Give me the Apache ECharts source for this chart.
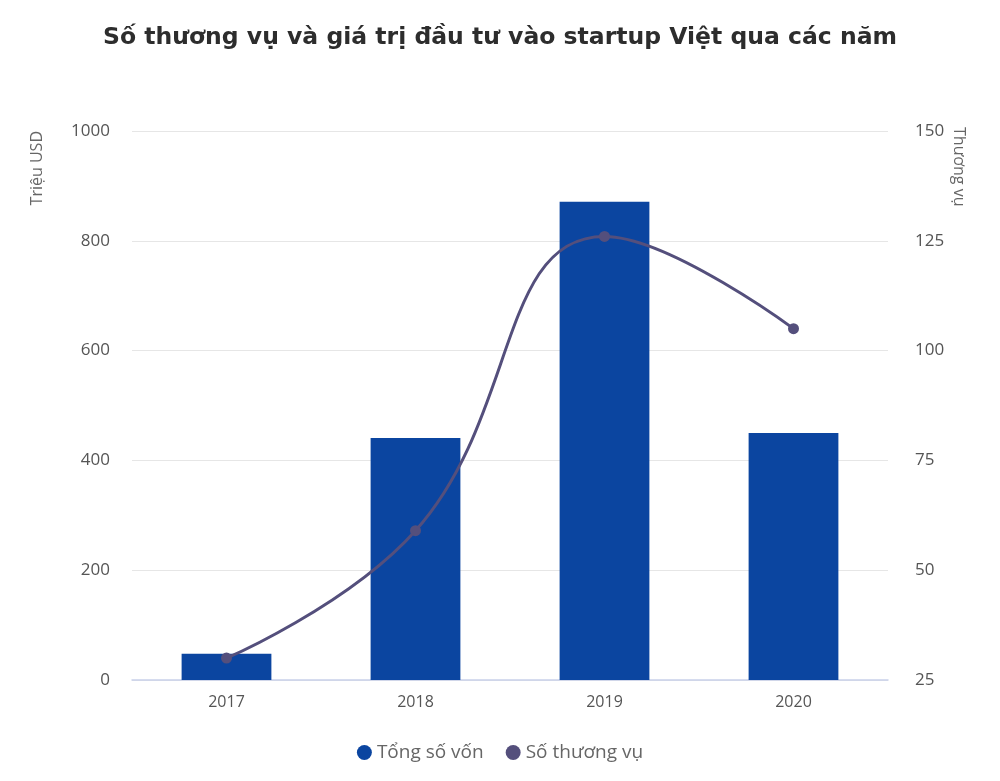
<!DOCTYPE html>
<html><head><meta charset="utf-8">
<script src="https://cdn.jsdelivr.net/npm/echarts@6/dist/echarts.min.js"></script>
<style>html,body{margin:0;padding:0;background:#fff}#c{width:1000px;height:781px}</style>
</head><body><div id="c"></div>
<script>
const categories = ['2017', '2018', '2019', '2020'];
const capital = [48, 441, 871, 450];
const deals = [30, 59, 126, 105];
const leftTicks = [0, 200, 400, 600, 800, 1000];
const rightTicks = [25, 50, 75, 100, 125, 150];

const font = '"Open Sans", Lato, sans-serif';
const chart = echarts.init(document.getElementById('c'));
chart.setOption({
  animation: false,
  title: {
    text: 'Số thương vụ và giá trị đầu tư vào startup Việt qua các năm',
    left: 'center', top: 21,
    textStyle: {fontFamily: '"DejaVu Sans", sans-serif', fontSize: 23.5, fontWeight: 'bold', color: '#2d2d2d'}
  },
  grid: {left: 132, right: 112, top: 131, bottom: 101},
  legend: {
    bottom: 14, left: 'center', itemGap: 22, itemWidth: 15, itemHeight: 15,
    textStyle: {fontFamily: font, fontSize: 19, color: '#666'},
    data: [{name: 'Tổng số vốn', icon: 'circle'}, {name: 'Số thương vụ', icon: 'circle'}]
  },
  xAxis: {
    type: 'category', data: categories,
    axisLine: {lineStyle: {color: '#c9d1ea', width: 1.5}},
    axisTick: {show: false},
    axisLabel: {fontFamily: font, fontSize: 16, color: '#555', margin: 14}
  },
  yAxis: [{
    type: 'value', min: leftTicks[0], max: leftTicks[leftTicks.length - 1], interval: 200,
    axisLine: {show: false}, axisTick: {show: false},
    axisLabel: {fontFamily: font, fontSize: 17, color: '#555', margin: 22, formatter: v => String(v)},
    splitLine: {lineStyle: {color: '#e6e6e6'}}
  }, {
    type: 'value', min: rightTicks[0], max: rightTicks[rightTicks.length - 1], interval: 25,
    axisLine: {show: false}, axisTick: {show: false},
    axisLabel: {fontFamily: font, fontSize: 17, color: '#555', margin: 27},
    splitLine: {show: false}
  }],
  graphic: [{
    type: 'text', left: 29, top: 131, rotation: Math.PI / 2,
    style: {text: 'Triệu USD', font: '16px ' + font, fill: '#666'}
  }, {
    type: 'text', left: 951, top: 127, rotation: -Math.PI / 2,
    style: {text: 'Thương vụ', font: '16px ' + font, fill: '#666'}
  }],
  series: [{
    name: 'Tổng số vốn', type: 'bar', data: capital, barWidth: '47.5%',
    itemStyle: {color: '#0b45a0'}, yAxisIndex: 0
  }, {
    name: 'Số thương vụ', type: 'line', data: deals, yAxisIndex: 1, smooth: 0.45,
    symbol: 'circle', symbolSize: 11,
    lineStyle: {color: '#544f7c', width: 3}, itemStyle: {color: '#544f7c'}
  }]
});
</script></body></html>
